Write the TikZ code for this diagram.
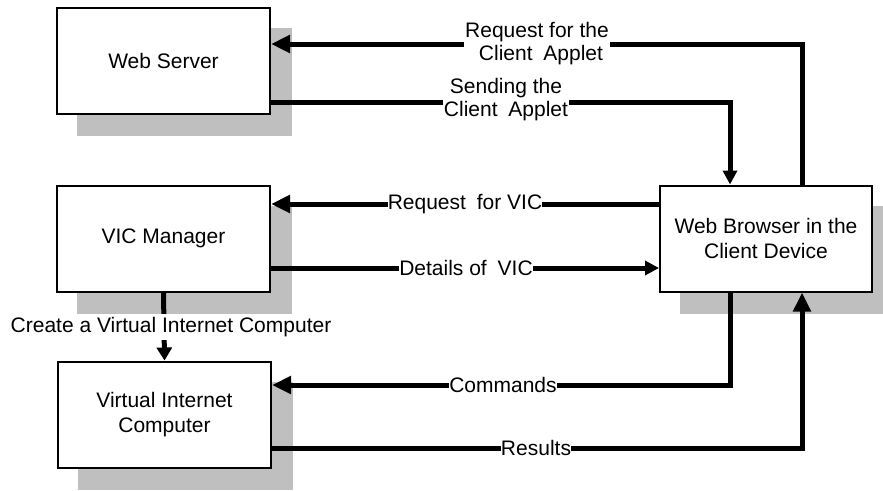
\documentclass[tikz,border=0pt]{standalone}
\usepackage{fontspec}
\setmainfont{Liberation Sans}
\usetikzlibrary{arrows.meta,backgrounds,calc}
\begin{document}
\begin{tikzpicture}[x=1pt,y=-1pt,
  font=\fontsize{21}{25.5}\selectfont,
  box/.style={draw=black, line width=2pt, fill=white, minimum width=213pt, minimum height=106pt, align=center, inner sep=0pt},
  shade/.style={fill=black!25},
  conn/.style={line width=5pt, -{Triangle[length=19pt,width=17pt]}},
  connS/.style={line width=5pt, -{Triangle[length=14pt,width=14pt]}},
  connC/.style={line width=5pt, -{Triangle[length=13pt,width=15pt]}},
  lbl/.style={fill=white, inner xsep=1pt, inner ysep=0pt, align=center, font=\fontsize{21}{23}\selectfont}]
\useasboundingbox (0,0) rectangle (883,490);
% boxes
\node[box] (ws) at (163.5,60.5) {Web Server};
\node[box] (vm) at (163.5,238.5) {VIC Manager};
\node[box] (vc) at (164.5,414.5) {Virtual Internet\\Computer};
\node[box, minimum width=212pt] (wb) at (766,238.5) {Web Browser in the\\Client Device};
% shadows
\begin{scope}[on background layer]
  \foreach \n in {ws,vm,vc,wb}{
    \fill[shade] ($(\n.north west)+(21,21)$) rectangle ($(\n.south east)+(21,21)$);
  }
\end{scope}
% helper coordinates
\coordinate (xa) at (730,0);
\coordinate (xb) at (802,0);
\coordinate (y1) at (0,44);
\coordinate (y2) at (0,102);
\coordinate (y3) at (0,204);
\coordinate (y4) at (0,268);
\coordinate (y5) at (0,385);
\coordinate (y6) at (0,448);
% Request for the Client Applet
\draw[conn] (wb.north -| xb) -- (xb |- y1) -- (ws.east |- y1);
\node[lbl] (l1) at (537,44) {Request for the\\\hspace*{8pt}Client\hspace{5pt} Applet};
% Sending the Client Applet
\draw[connS] (ws.east |- y2) -- (xa |- y2) -- (wb.north -| xa);
\node[lbl] (l2) at (506,100) {Sending the\\Client\hspace{5pt} Applet};
% Request for VIC
\draw[conn] (wb.west |- y3) -- (vm.east |- y3);
\node[lbl, inner xsep=0pt] (l3) at (465,204) {Request\hspace{5pt} for VIC};
% Details of VIC
\draw[connS] (vm.east |- y4) -- (wb.west |- y4);
\node[lbl, inner xsep=0pt] (l4) at (466,268) {Details of\hspace{5pt} VIC};
% Create a VIC
\draw[connC] (vm.south) -- (vc.north);
\node[lbl, inner ysep=3.5pt] (l5) at (171,327) {Create a Virtual Internet Computer};
% Commands
\draw[conn] (wb.south -| xa) -- (xa |- y5) -- (vc.east |- y5);
\node[lbl, inner xsep=0pt] (l6) at (503,385) {Commands};
% Results
\draw[conn] (vc.east |- y6) -- (xb |- y6) -- (wb.south -| xb);
\node[lbl, inner xsep=0pt] (l7) at (536,448) {Results};
\end{tikzpicture}
\end{document}
